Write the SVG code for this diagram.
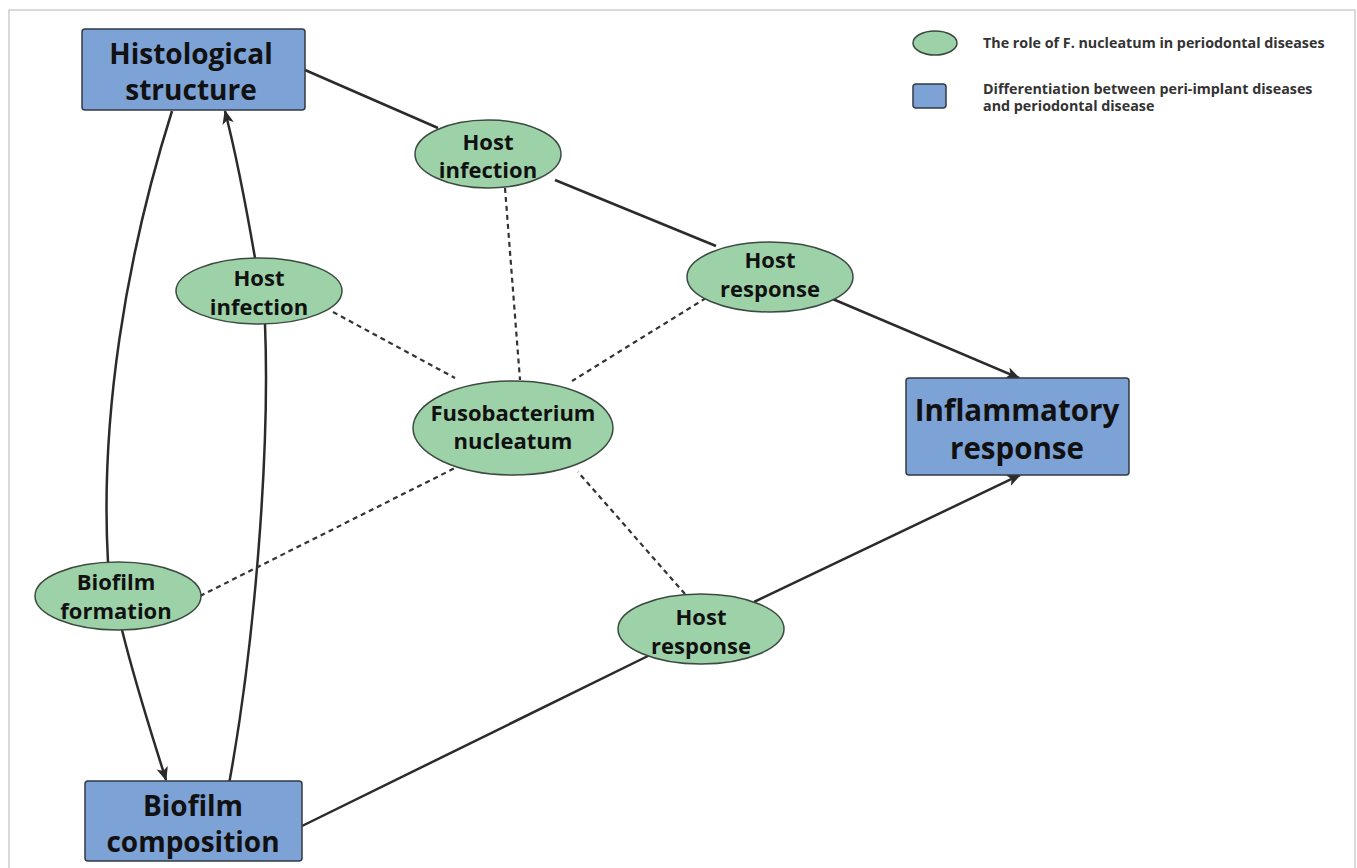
<svg xmlns="http://www.w3.org/2000/svg" width="1357" height="868" viewBox="0 0 1357 868">
<style>
.box{fill:#7da2d6;stroke:#333a44;stroke-width:1.5}
.ell{fill:#9dd2a8;stroke:#3c4a40;stroke-width:1.5}
.t{font-family:"Open Sans","Liberation Sans",sans-serif;font-weight:bold;fill:#111;text-anchor:middle}
.bt{font-size:28px}
.et{font-size:22px}
.lg{font-family:"Open Sans","Liberation Sans",sans-serif;font-weight:bold;font-size:14.3px;fill:#333}
.solid{fill:none;stroke:#2b2b2b;stroke-width:2.5}
.dash{fill:none;stroke:#333;stroke-width:2.2;stroke-dasharray:5 4}
</style>
<defs>
<marker id="arr" viewBox="0 0 12 10" refX="11" refY="5" markerWidth="14" markerHeight="12" markerUnits="userSpaceOnUse" orient="auto">
<path d="M0,0 L12,5 L0,10 L3,5 z" fill="#2b2b2b"/>
</marker>
</defs>
<rect x="0" y="0" width="1357" height="868" fill="#fff"/>
<rect x="9" y="10" width="1346" height="870" fill="none" stroke="#b5b5b5" stroke-width="1"/>

<g id="connectors">
<line class="solid" x1="305" y1="70" x2="438" y2="128"/>
<line class="solid" x1="555" y1="180" x2="716" y2="246"/>
<line class="solid" x1="828" y1="297" x2="1019" y2="378" marker-end="url(#arr)"/>
<line class="solid" x1="302" y1="826" x2="652" y2="654"/>
<line class="solid" x1="754" y1="602" x2="1020" y2="475" marker-end="url(#arr)"/>
<path class="solid" d="M172,111 C125,260 100,420 108,562 M122,630 C137,690 152,735 166,780" marker-end="url(#arr)"/>
<path class="solid" d="M226,800 C255,650 270,450 265,324 M255,258 C245,200 235,150 225,111" marker-end="url(#arr)"/>
<line class="dash" x1="505" y1="188" x2="520" y2="380"/>
<line class="dash" x1="333" y1="312" x2="455" y2="378"/>
<line class="dash" x1="706" y1="298" x2="572" y2="381"/>
<line class="dash" x1="200" y1="596" x2="455" y2="468"/>
<line class="dash" x1="685" y1="594" x2="578" y2="472"/>
</g>

<g id="histological">
<rect class="box" x="82" y="29" width="223" height="81" rx="3"/>
<text class="t bt" x="191" y="64">Histological</text>
<text class="t bt" x="191" y="100">structure</text>
</g>
<g id="inflammatory">
<rect class="box" x="906" y="378" width="223" height="97" rx="3"/>
<text class="t" style="font-size:29.5px" x="1017" y="421">Inflammatory</text>
<text class="t" style="font-size:29.5px" x="1017" y="459">response</text>
</g>
<g id="biofilm-composition">
<rect class="box" x="85" y="781" width="217" height="80" rx="3"/>
<text class="t bt" x="193" y="816">Biofilm</text>
<text class="t bt" x="193" y="852">composition</text>
</g>
<g id="host-infection-top">
<ellipse class="ell" cx="488" cy="154" rx="73" ry="34"/>
<text class="t et" x="488" y="150">Host</text>
<text class="t et" x="488" y="178">infection</text>
</g>
<g id="host-response-right">
<ellipse class="ell" cx="770" cy="277" rx="83" ry="35"/>
<text class="t et" x="770" y="268">Host</text>
<text class="t et" x="770" y="297">response</text>
</g>
<g id="host-infection-left">
<ellipse class="ell" cx="259" cy="291" rx="83" ry="33"/>
<text class="t et" x="259" y="286">Host</text>
<text class="t et" x="259" y="315">infection</text>
</g>
<g id="fusobacterium">
<ellipse class="ell" cx="513" cy="428" rx="100" ry="47"/>
<text class="t et" x="513" y="421">Fusobacterium</text>
<text class="t et" x="513" y="449">nucleatum</text>
</g>
<g id="biofilm-formation">
<ellipse class="ell" cx="118" cy="596" rx="83" ry="34"/>
<text class="t et" x="116" y="590">Biofilm</text>
<text class="t et" x="116" y="619">formation</text>
</g>
<g id="host-response-bottom">
<ellipse class="ell" cx="701" cy="629" rx="83" ry="35"/>
<text class="t et" x="701" y="625">Host</text>
<text class="t et" x="701" y="654">response</text>
</g>

<g id="legend">
<ellipse class="ell" cx="935" cy="43" rx="22" ry="12"/>
<text class="lg" x="983" y="48">The role of F. nucleatum in periodontal diseases</text>
<rect class="box" x="913" y="84" width="33" height="24" rx="3"/>
<text class="lg" x="983" y="94">Differentiation between peri-implant diseases</text>
<text class="lg" x="983" y="111">and periodontal disease</text>
</g>
</svg>
